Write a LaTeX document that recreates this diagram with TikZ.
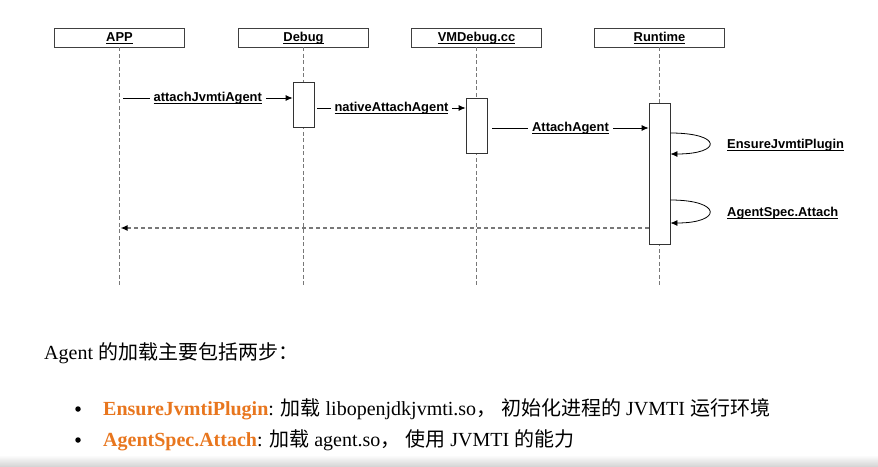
\documentclass[tikz,border=0pt]{standalone}
\usepackage{fontspec}
\setmainfont{Liberation Serif}
\setsansfont{Liberation Sans}
\newfontfamily\cjk{Noto Sans CJK SC}
\usetikzlibrary{arrows.meta,positioning}
\definecolor{lifegray}{RGB}{120,120,120}
\definecolor{hlorange}{RGB}{232,118,30}
\newcommand\ulbl[1]{\setbox0\hbox{#1}\rlap{\rule[-1.9pt]{\wd0}{0.8pt}}\box0}

\begin{document}
\begin{tikzpicture}[x=1pt,y=-1pt,>=Latex,
  actor/.style={draw=black!75,line width=0.8pt,minimum width=130pt,minimum height=19pt,inner sep=0pt,text height=9.4pt,text depth=0.8pt,font=\sffamily\bfseries\fontsize{12.9}{14}\selectfont},
  lifeline/.style={draw=lifegray,line width=1.6pt,dash pattern=on 4pt off 2.5pt},
  act/.style={draw=black!80,fill=white,line width=0.8pt,minimum width=21pt,inner sep=0pt},
  msg/.style={draw=black,line width=0.8pt,-{Latex[length=7pt,width=6pt]}},
  ret/.style={draw=lifegray,line width=1.6pt,dash pattern=on 4pt off 3pt,-{Latex[length=7pt,width=6pt,color=black]}},
  lbl/.style={fill=white,inner xsep=4pt,inner ysep=1pt,text height=9.4pt,text depth=2.6pt,font=\sffamily\bfseries\fontsize{12.9}{14}\selectfont},
  body/.style={font=\fontsize{20}{24}\selectfont,inner sep=0pt},
  dot/.style={circle,fill=black,inner sep=0pt,minimum size=5.5pt}]
\useasboundingbox (0,0) rectangle (878,466);
\shade[top color=white,bottom color=black!16] (0,455) rectangle (878,466);

% participants
\node[actor] (app) at (119.5,37.5) {\ulbl{APP}};
\node[actor] (debug) at (303.5,37.5) {\ulbl{Debug}};
\node[actor] (vmdebug) at (476.5,37.5) {\ulbl{VMDebug.cc}};
\node[actor] (runtime) at (659.5,37.5) {\ulbl{Runtime}};

\coordinate (lifeend) at (0,287);
\draw[lifeline] (app.south) -- (app.south |- lifeend);
\draw[lifeline] (debug.south) -- (debug.south |- lifeend);
\draw[lifeline] (vmdebug.south) -- (vmdebug.south |- lifeend);
\draw[lifeline] (runtime.south) -- (runtime.south |- lifeend);

% activations
\node[act,minimum height=45pt] (dbgact) at (303.5,104.5) {};
\node[act,minimum height=55pt] (vmact) at (476.5,125.5) {};
\node[act,minimum height=141pt] (rtact) at (659.5,173.5) {};

% messages
\coordinate (m1) at (0,98);
\coordinate (m2) at (0,108);
\coordinate (m3) at (0,128);
\coordinate (m4) at (0,228);
\draw[msg] ([xshift=3.5pt]app.center |- m1) -- (dbgact.west |- m1) node[lbl,midway] {\ulbl{attachJvmtiAgent}};
\draw[msg] ([xshift=3pt]dbgact.east |- m2) -- (vmact.west |- m2) node[lbl,midway] {\ulbl{nativeAttachAgent}};
\draw[msg] ([xshift=5pt]vmact.east |- m3) -- (rtact.west |- m3) node[lbl,midway] {\ulbl{AttachAgent}};

% self calls
\coordinate (s1a) at (0,133);
\coordinate (s1b) at (0,154);
\coordinate (s2a) at (0,200);
\coordinate (s2b) at (0,223);
\draw[msg] (rtact.east |- s1a) .. controls +(52,0) and +(52,0) .. (rtact.east |- s1b);
\draw[msg] (rtact.east |- s2a) .. controls +(52,0) and +(52,0) .. (rtact.east |- s2b);
\node[lbl,anchor=west,inner xsep=0pt] (ensure) at (727,145) {\ulbl{EnsureJvmtiPlugin}};
\node[lbl,anchor=west,inner xsep=0pt] (specattach) at (727,213) {\ulbl{AgentSpec.Attach}};

% return
\draw[ret] (rtact.west |- m4) -- ([xshift=1pt]app.center |- m4);

% text below
\node[body,anchor=base west] (intro) at (44,359) {Agent {\cjk 的加载主要包括两步：}};
\node[dot] (dot1) at (78,409) {};
\node[dot] (dot2) at (78,440) {};
\node[body,anchor=base west] (item1) at (103,415) {\textcolor{hlorange}{\bfseries EnsureJvmtiPlugin}: {\cjk 加载} libopenjdkjvmti.so{\cjk ，} {\cjk 初始化进程的} JVMTI {\cjk 运行环境}};
\node[body,anchor=base west] (item2) at (103,446) {\textcolor{hlorange}{\bfseries AgentSpec.Attach}: {\cjk 加载} agent.so{\cjk ，} {\cjk 使用} JVMTI {\cjk 的能力}};
\end{tikzpicture}
\end{document}
